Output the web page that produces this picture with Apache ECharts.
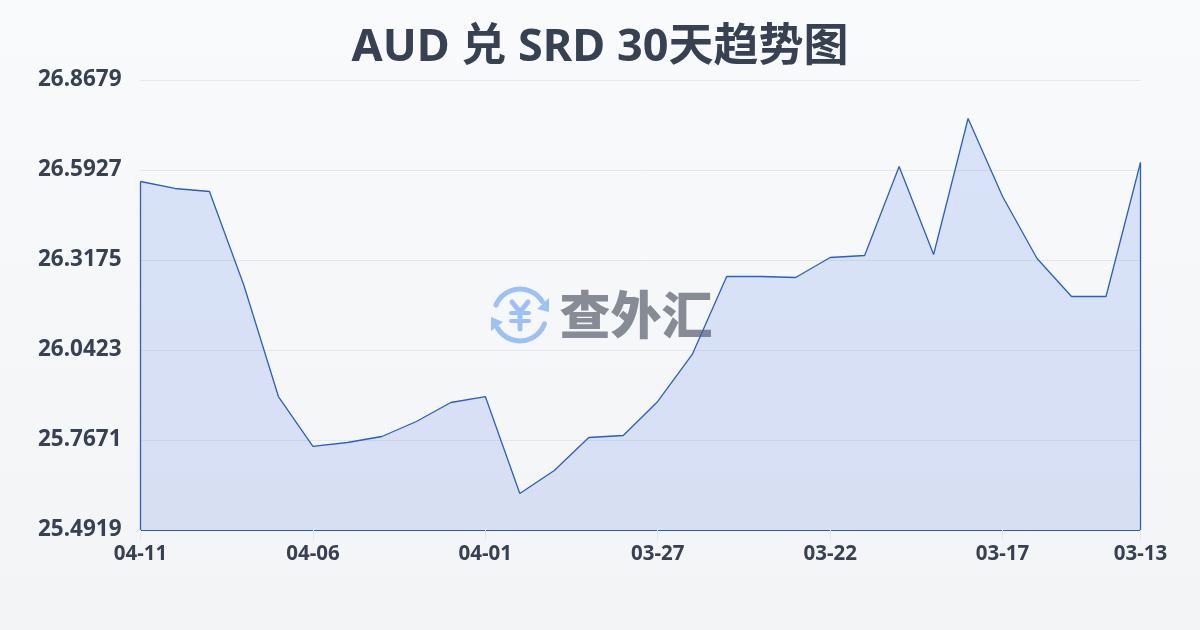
<!DOCTYPE html>
<html><head><meta charset="utf-8">
<style>html,body{margin:0;padding:0;width:1200px;height:630px;overflow:hidden}#c{width:1200px;height:630px}</style>
<script src="https://cdn.jsdelivr.net/npm/echarts@6/dist/echarts.min.js"></script>
</head><body><div id="c"></div>
<script>
const titleText = 'AUD 兑 SRD 30天趋势图';
const watermarkText = '查外汇';
const categories = ['04-11','04-10','04-09','04-08','04-07','04-06','04-05','04-04','04-03','04-02','04-01','03-31','03-30','03-29','03-28','03-27','03-26','03-25','03-24','03-23','03-22','03-21','03-20','03-19','03-18','03-17','03-16','03-15','03-14','03-13'];
const rates = [26.5575,26.5362,26.5270,26.2396,25.9000,25.7473,25.7595,25.7778,25.8237,25.8818,25.9000,25.6035,25.6739,25.7748,25.7809,25.8849,26.0286,26.2671,26.2671,26.2640,26.3252,26.3313,26.6034,26.3344,26.7502,26.5117,26.3221,26.2059,26.2059,26.6157];
const yTicks = [25.4919,25.7671,26.0423,26.3175,26.5927,26.8679];
const xLabelIdx = [0,5,10,15,20,25,29];

const chart = echarts.init(document.getElementById('c'), null, {renderer:'canvas'});
const font = '"Noto Sans","Noto Sans CJK SC",sans-serif';
const lineColor = '#2b5fc7';
const last = categories.length - 1;
chart.setOption({
  animation:false,
  backgroundColor:new echarts.graphic.LinearGradient(0,0,0,1,[{offset:0,color:'#f8fafc'},{offset:1,color:'#f3f4f6'}]),
  title:{text:titleText,left:'center',top:21,textStyle:{fontFamily:font,fontSize:45,fontWeight:700,color:'#374151'}},
  grid:{left:140.5,right:59.5,top:80,bottom:100,containLabel:false},
  graphic:[{type:'group',z:-1,silent:true,children:[
    {type:'arc',shape:{cx:520,cy:315,r:26,startAngle:-2.75,endAngle:-0.55},style:{fill:null,stroke:'#9dc0f5',lineWidth:5,lineCap:'round'}},
    {type:'arc',shape:{cx:520,cy:315,r:26,startAngle:0.35,endAngle:2.6},style:{fill:null,stroke:'#9dc0f5',lineWidth:5,lineCap:'round'}},
    {type:'polygon',shape:{points:[[549,298],[549,312],[537,309]]},style:{fill:'#9dc0f5'}},
    {type:'polygon',shape:{points:[[491,317],[491,331],[503,322]]},style:{fill:'#9dc0f5'}},
    {type:'polyline',shape:{points:[[512,302],[520,312],[528,302]]},style:{fill:null,stroke:'#9dc0f5',lineWidth:5,lineCap:'round'}},
    {type:'line',shape:{x1:520,y1:312,x2:520,y2:329},style:{stroke:'#9dc0f5',lineWidth:5,lineCap:'round'}},
    {type:'line',shape:{x1:511,y1:313,x2:529,y2:313},style:{stroke:'#9dc0f5',lineWidth:4,lineCap:'round'}},
    {type:'line',shape:{x1:511,y1:321,x2:529,y2:321},style:{stroke:'#9dc0f5',lineWidth:4,lineCap:'round'}},
    {type:'text',x:636,y:315,style:{text:watermarkText,fontFamily:'"Noto Sans CJK SC",sans-serif',fontWeight:900,fontSize:51,fill:'#868b95',align:'center',verticalAlign:'middle'}}
  ]}],
  xAxis:{type:'category',data:categories,boundaryGap:false,
    axisLine:{show:true,lineStyle:{color:lineColor,width:1.2}},
    axisTick:{show:true,alignWithLabel:true,length:10,lineStyle:{color:'#e5e7eb'},interval:(i)=>xLabelIdx.includes(i)},
    axisLabel:{interval:(i)=>xLabelIdx.includes(i),margin:14,fontFamily:font,fontSize:20.5,fontWeight:700,color:'#374151'},
    splitLine:{show:false}},
  yAxis:{type:'value',min:yTicks[0],max:yTicks[yTicks.length-1],
    axisLine:{show:false},axisTick:{show:false,customValues:yTicks},
    axisLabel:{customValues:yTicks,margin:19,padding:[0,0,3,0],fontFamily:font,fontSize:22.5,fontWeight:700,color:'#374151',formatter:(v)=>v.toFixed(4)},
    splitLine:{show:true,lineStyle:{color:'#e5e7eb',width:1}}},
  series:[{type:'line',data:rates,symbol:'none',smooth:false,
    lineStyle:{color:lineColor,width:1.3},
    itemStyle:{color:lineColor},
    areaStyle:{color:'#4a74e0',opacity:0.17},
    markLine:{silent:true,symbol:'none',label:{show:false},lineStyle:{color:lineColor,width:1.3,type:'solid'},animation:false,
      data:[
        [{coord:[categories[0],yTicks[0]]},{coord:[categories[0],rates[0]]}],
        [{coord:[categories[last],yTicks[0]]},{coord:[categories[last],rates[last]]}]
      ]}
  }]
});
</script></body></html>
